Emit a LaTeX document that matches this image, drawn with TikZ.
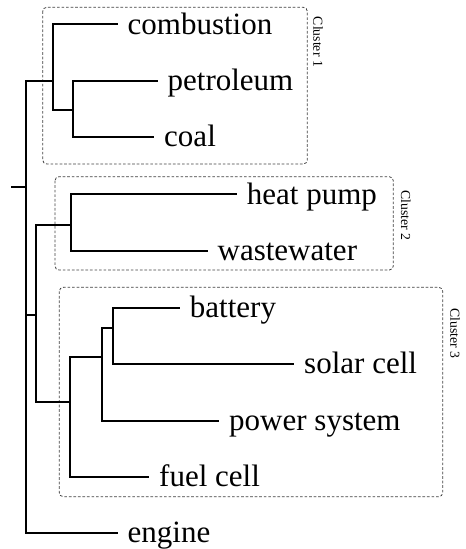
\documentclass[tikz,border=0pt]{standalone}
\usepackage{fontspec}
\setmainfont{Liberation Serif}
\usepackage{tikz}
\usetikzlibrary{calc}

\begin{document}
\begin{tikzpicture}[x=0.75pt, y=-0.75pt,
  leaf/.style={anchor=west, inner xsep=8pt, inner ysep=0pt, text height=16.3pt, text depth=1.4pt, font=\fontsize{23.25}{28}\selectfont},
  branch/.style={line width=1.3pt, line cap=rect},
  clusterbox/.style={draw=black!75, line width=0.6pt, dash pattern=on 2pt off 1.4pt, rounded corners=3pt},
  clusterlabel/.style={rotate=-90, anchor=south west, inner sep=0pt, font=\fontsize{10.3}{12}\selectfont}]
\useasboundingbox (0,0) rectangle (465,549);

% cluster frames
\draw[clusterbox] (42.7,7.3) rectangle (307.3,164);
\draw[clusterbox] (55,176.7) rectangle (393.3,270);
\draw[clusterbox] (59.3,287.3) rectangle (442.7,496.7);
\node[clusterlabel] (lab1) at (313,16.7) {Cluster 1};
\node[clusterlabel] (lab2) at (400.7,190) {Cluster 2};
\node[clusterlabel] (lab3) at (450,308.3) {Cluster 3};

% leaves
\node[leaf] (comb) at (116.7,24.3) {combustion};
\node[leaf] (petr) at (156.7,81) {petroleum};
\node[leaf] (coal) at (153.3,136.7) {coal};
\node[leaf] (heat) at (236,194.3) {heat pump};
\node[leaf] (waste) at (206.7,250.7) {wastewater};
\node[leaf] (batt) at (179,307.7) {battery};
\node[leaf] (solar) at (293.3,364) {solar cell};
\node[leaf] (power) at (218.3,420.7) {power system};
\node[leaf] (fuel) at (148.3,476.7) {fuel cell};
\node[leaf] (engine) at (116.7,532.7) {engine};

% joins
\coordinate (top) at (12,186.7);
\coordinate (root) at (26,186.7);
\coordinate (c1j) at (53.3,81);
\coordinate (pc) at (73.3,110);
\coordinate (c23) at (36,315);
\coordinate (c2j) at (71,225);
\coordinate (c3j) at (70,402.3);
\coordinate (bpsj) at (101.7,356.7);
\coordinate (bsj) at (113,328.3);

\draw[branch] (petr.west) -| (pc) |- (coal.west);
\draw[branch] (comb.west) -| (c1j) |- (pc);
\draw[branch] (heat.west) -| (c2j) |- (waste.west);
\draw[branch] (batt.west) -| (bsj) |- (solar.west);
\draw[branch] (bsj) -| (bpsj) |- (power.west);
\draw[branch] (bpsj) -| (c3j) |- (fuel.west);
\draw[branch] (c2j) -| (c23) |- (c3j);
\draw[branch] (c1j) -| (root) |- (engine.west);
\draw[branch] (c23) -- (c23 -| root);
\draw[branch] (top) -- (root);
\end{tikzpicture}
\end{document}
